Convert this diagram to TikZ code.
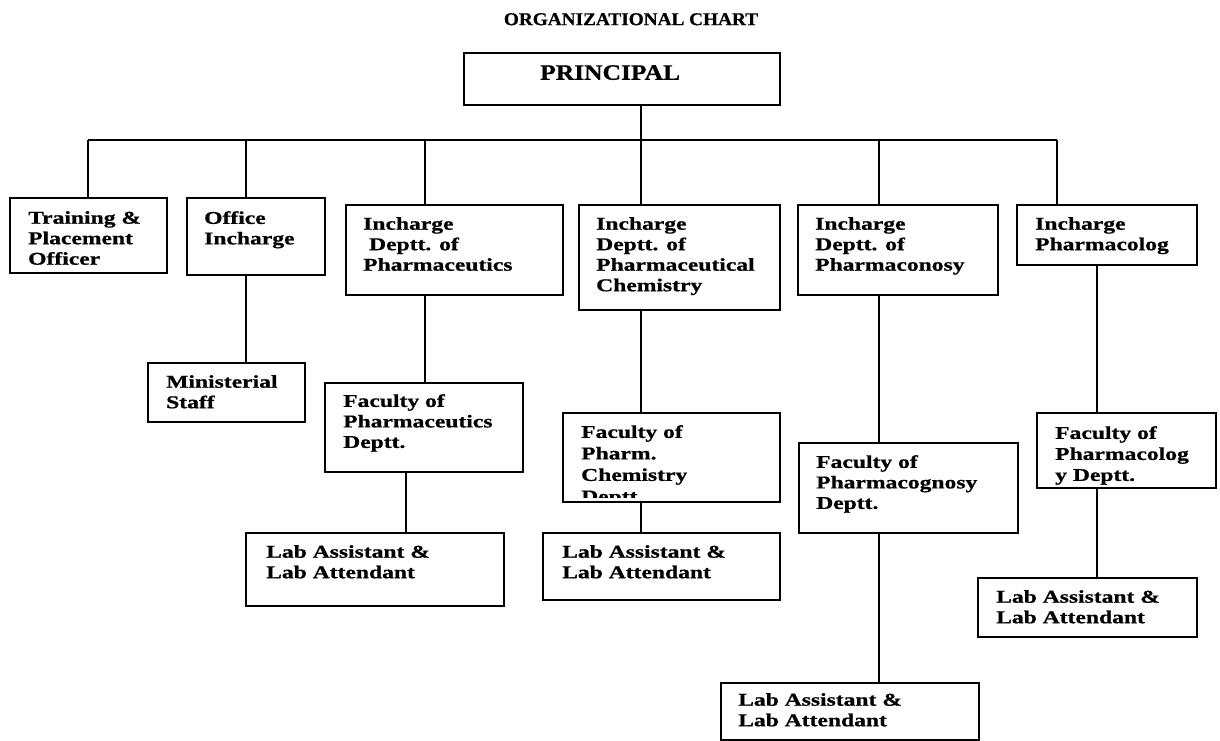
\documentclass[tikz,border=0pt]{standalone}
\usepackage{fontspec}
\newfontfamily\bodyf{Liberation Serif}[FakeStretch=1.31,FakeBold=0.8]
\newfontfamily\titlef{Liberation Serif}[FakeStretch=1.07,FakeBold=0.6]
\newfontfamily\princf{Liberation Serif}[FakeStretch=1.16,FakeBold=0.8]
\usetikzlibrary{fit}
\begin{document}
\begin{tikzpicture}[x=1pt,y=-1pt,
  bx/.style={draw=black, line width=1.6pt, inner sep=0pt},
  ln/.style={draw=black, line width=1.6pt},
  txt/.style={anchor=north west, inner sep=0pt, align=left, text=black,
    font={\bodyf\bfseries\fontsize{18}{20.5}\selectfont}}]
\fill[white] (0,0) rectangle (1220,741);
\path[use as bounding box] (0,0) rectangle (1220,741);

% title
\node[anchor=north, inner sep=0pt, font={\titlef\bfseries\fontsize{18}{20}\selectfont}] (title) at (631,13) {ORGANIZATIONAL CHART};

% boxes
\node[bx, fit={(464,53) (780,105)}] (principal) {};
\node[bx, fit={(10,198) (167,273)}] (tpo) {};
\node[bx, fit={(187,198) (325,275)}] (office) {};
\node[bx, fit={(346,205) (563,295)}] (ipharm) {};
\node[bx, fit={(579,205) (780,310)}] (ichem) {};
\node[bx, fit={(798,205) (998,295)}] (icog) {};
\node[bx, fit={(1017,205) (1197,265)}] (icol) {};
\node[bx, fit={(148,363) (305,422)}] (mini) {};
\node[bx, fit={(325,383) (523,472)}] (fpharm) {};
\node[bx, fit={(563,413) (780,502)}] (fchem) {};
\node[bx, fit={(799,443) (1018,533)}] (fcog) {};
\node[bx, fit={(1037,413) (1216,488)}] (fcol) {};
\node[bx, fit={(246,533) (504,606)}] (lab1) {};
\node[bx, fit={(543,533) (780,600)}] (lab2) {};
\node[bx, fit={(721,683) (979,740)}] (lab3) {};
\node[bx, fit={(978,578) (1197,637)}] (lab4) {};

% texts
\node[anchor=north west, inner sep=0pt, font={\princf\bfseries\fontsize{22}{24}\selectfont}] (principal-t) at (540,65) {PRINCIPAL};
\node[txt] (tpo-t) at (28,211) {Training \&\\Placement\\Officer};
\node[txt] (office-t) at (204,211) {Office\\Incharge};
\node[txt] (ipharm-t) at (363,217) {Incharge\\~Deptt. of\\Pharmaceutics};
\node[txt] (ichem-t) at (596,217) {Incharge\\Deptt. of\\Pharmaceutical\\Chemistry};
\node[txt] (icog-t) at (815,217) {Incharge\\Deptt. of\\Pharmaconosy};
\node[txt] (icol-t) at (1035,217) {Incharge\\Pharmacolog};
\node[txt] (mini-t) at (166,375) {Ministerial\\Staff};
\node[txt] (fpharm-t) at (343,394) {Faculty of\\Pharmaceutics\\Deptt.};
\begin{scope}
  \clip (564,414) rectangle (779,497);
  \node[txt, font={\bodyf\bfseries\fontsize{18}{21.5}\selectfont}] (fchem-t) at (581,425) {Faculty of\\Pharm.\\Chemistry\\Deptt.};
\end{scope}
\node[txt] (fcog-t) at (816,455) {Faculty of\\Pharmacognosy\\Deptt.};
\node[txt, font={\bodyf\bfseries\fontsize{18}{21}\selectfont}] (fcol-t) at (1055,426) {Faculty of\\Pharmacolog\\y Deptt.};
\node[txt] (lab1-t) at (266,545) {Lab Assistant \&\\Lab Attendant};
\node[txt] (lab2-t) at (562,545) {Lab Assistant \&\\Lab Attendant};
\node[txt] (lab3-t) at (738,693) {Lab Assistant \&\\Lab Attendant};
\node[txt] (lab4-t) at (996,590) {Lab Assistant \&\\Lab Attendant};

% bus coordinates
\coordinate (c1) at (88,140);
\coordinate (c2) at (246,140);
\coordinate (c3) at (425,140);
\coordinate (c4) at (641,140);
\coordinate (c5) at (879,140);
\coordinate (c6) at (1057,140);
\coordinate (d1) at (406,0);
\coordinate (d2) at (1097,0);

% connectors
\draw[ln] (c1) -- (c6);
\draw[ln] (principal.south -| c4) -- (c4);
\draw[ln] (c1) -- (c1 |- tpo.north);
\draw[ln] (c2) -- (c2 |- office.north);
\draw[ln] (c3) -- (c3 |- ipharm.north);
\draw[ln] (c4) -- (c4 |- ichem.north);
\draw[ln] (c5) -- (c5 |- icog.north);
\draw[ln] (c6) -- (c6 |- icol.north);

\draw[ln] (office.south -| c2) -- (mini.north -| c2);
\draw[ln] (ipharm.south -| c3) -- (fpharm.north -| c3);
\draw[ln] (fpharm.south -| d1) -- (lab1.north -| d1);
\draw[ln] (ichem.south -| c4) -- (fchem.north -| c4);
\draw[ln] (fchem.south -| c4) -- (lab2.north -| c4);
\draw[ln] (icog.south -| c5) -- (fcog.north -| c5);
\draw[ln] (fcog.south -| c5) -- (lab3.north -| c5);
\draw[ln] (icol.south -| d2) -- (fcol.north -| d2);
\draw[ln] (fcol.south -| d2) -- (lab4.north -| d2);
\end{tikzpicture}
\end{document}
